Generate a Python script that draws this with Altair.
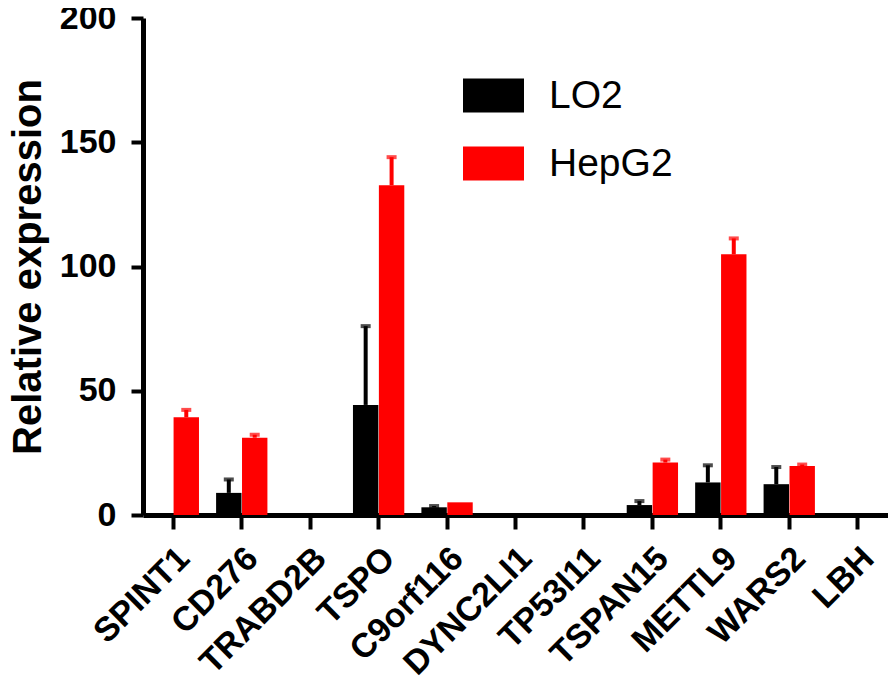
import altair as alt
import pandas as pd

genes = ["SPINT1", "CD276", "TRABD2B", "TSPO", "C9orf116", "DYNC2LI1",
         "TP53I11", "TSPAN15", "METTL9", "WARS2", "LBH"]
series = ["LO2", "HepG2"]
colors = ["#000000", "#ff0000"]

lo2_mean = [0, 8.9, 0, 44.3, 3.1, 0, 0, 4.0, 13.1, 12.4, 0]
lo2_err = [0, 5.4, 0, 31.7, 0.5, 0, 0, 1.6, 6.9, 6.9, 0]
hepg2_mean = [39.3, 31.1, 0, 132.7, 5.1, 0, 0, 21.1, 104.9, 19.7, 0]
hepg2_err = [3.0, 1.2, 0, 11.3, 0, 0, 0, 1.2, 6.4, 0.6, 0]

rows = []
for name, means, errs in [("LO2", lo2_mean, lo2_err), ("HepG2", hepg2_mean, hepg2_err)]:
    for g, m, e in zip(genes, means, errs):
        rows.append({"gene": g, "line": name, "mean": m, "err": e, "top": m + e})
df = pd.DataFrame(rows)

FONT = "Liberation Sans"
W, H = 745, 497

xenc = alt.X("gene:N", sort=genes,
             scale=alt.Scale(paddingInner=0.25, paddingOuter=0.068),
             axis=alt.Axis(title=None, domain=True, domainWidth=5, domainColor="black",
                           labelAngle=-45,
                           labelAlign="right", labelBaseline="top",
                           labelFont=FONT, labelFontSize=34, labelFontWeight="bold",
                           labelColor="black", labelOffset=-1, labelPadding=12,
                           tickSize=14, tickWidth=4, tickColor="black"))
xoff = alt.XOffset("line:N", sort=series, scale=alt.Scale(paddingInner=0.02))
yscale = alt.Scale(domain=[0, 200], nice=False)
cscale = alt.Scale(domain=series, range=colors)

base = alt.Chart(df).encode(x=xenc, xOffset=xoff)

bars = base.mark_bar().encode(
    y=alt.Y("mean:Q", scale=yscale,
            axis=alt.Axis(title="Relative expression", values=[0, 50, 100, 150, 200],
                          grid=False, domainWidth=5, domainColor="black",
                          tickSize=12, tickWidth=4, tickColor="black",
                          labelFont=FONT, labelFontSize=34, labelFontWeight="bold",
                          labelColor="black", labelPadding=15,
                          titleFont=FONT, titleFontSize=40, titleFontWeight="bold",
                          titleColor="black", titlePadding=11)),
    color=alt.Color("line:N", sort=series, scale=cscale,
                    legend=alt.Legend(title=None, orient="none", legendX=320, legendY=47,
                                      symbolType="M-1,-0.557H1V0.557H-1Z",
                                      symbolSize=3721, symbolStrokeWidth=0,
                                      labelFont=FONT, labelFontSize=39,
                                      labelColor="black", labelOffset=25,
                                      rowPadding=17)),
)

errs = base.transform_filter("datum.err > 0").mark_rule(strokeWidth=4).encode(
    y=alt.Y("mean:Q", scale=yscale), y2="top:Q",
    color=alt.Color("line:N", sort=series, scale=cscale, legend=None),
)
caps = base.transform_filter("datum.err > 0").mark_tick(thickness=4, size=10).encode(
    y=alt.Y("top:Q", scale=yscale),
    color=alt.Color("line:N", sort=series, scale=cscale, legend=None),
)

chart = alt.layer(bars, errs, caps).properties(
    width=W, height=H,
    autosize=alt.AutoSizeParams(type="none"),
    padding={"left": 135, "top": 10, "right": 0, "bottom": 171},
).configure_view(stroke=None)

chart.save("out.html", embed_options={"renderer": "svg", "actions": False})
